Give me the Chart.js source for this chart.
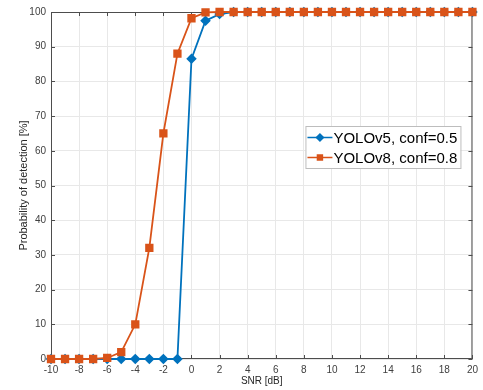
<!DOCTYPE html>
<html>
<head>
<meta charset="utf-8">
<script src="https://cdn.jsdelivr.net/npm/chart.js@4.4.0/dist/chart.umd.min.js"></script>
<style>
  html, body { margin: 0; padding: 0; background: #fff; }
  #wrap { width: 483px; height: 390px; }
</style>
</head>
<body>
<div id="wrap"><canvas id="myChart" width="483" height="390"></canvas></div>
<script>
// values
const snr = [-10, -9, -8, -7, -6, -5, -4, -3, -2, -1, 0, 1, 2, 3, 4, 5, 6, 7, 8, 9, 10,
             11, 12, 13, 14, 15, 16, 17, 18, 19, 20];
const yolov5 = [0, 0, 0, 0, 0, 0, 0, 0, 0, 0, 86.5, 97.5, 99.4,
                100, 100, 100, 100, 100, 100, 100, 100, 100, 100, 100, 100, 100, 100, 100, 100, 100, 100];
const yolov8 = [0, 0, 0, 0, 0.3, 2, 10, 32, 65, 88, 98.2, 99.9,
                100, 100, 100, 100, 100, 100, 100, 100, 100, 100, 100, 100, 100, 100, 100, 100, 100, 100, 100];
const xTicks = [-10, -8, -6, -4, -2, 0, 2, 4, 6, 8, 10, 12, 14, 16, 18, 20];
const yTicks = [0, 10, 20, 30, 40, 50, 60, 70, 80, 90, 100];
const seriesNames = ['YOLOv5, conf=0.5', 'YOLOv8, conf=0.8'];

const blue = '#0072BD';
const orange = '#D95319';

const toPoints = (ys) => snr.map((x, i) => ({ x: x, y: ys[i] }));

// MATLAB-like box with inward ticks
const boxPlugin = {
    id: 'box',
    beforeDatasetsDraw(chart) {
        const { ctx, chartArea: a, scales } = chart;
        ctx.save();
        ctx.strokeStyle = '#4d4d4d';
        ctx.lineWidth = 1;
        ctx.beginPath();
        ctx.rect(a.left + 0.5, a.top + 0.5, a.right - a.left - 1, a.bottom - a.top - 1);
        ctx.stroke();
        ctx.beginPath();
        xTicks.forEach(v => {
            const px = Math.round(scales.x.getPixelForValue(v)) + 0.5;
            ctx.moveTo(px, a.bottom); ctx.lineTo(px, a.bottom - 4);
            ctx.moveTo(px, a.top); ctx.lineTo(px, a.top + 4);
        });
        yTicks.forEach(v => {
            const py = Math.round(scales.y.getPixelForValue(v)) + 0.5;
            ctx.moveTo(a.left, py); ctx.lineTo(a.left + 4, py);
            ctx.moveTo(a.right, py); ctx.lineTo(a.right - 4, py);
        });
        ctx.stroke();
        ctx.restore();
    }
};

// legend box inside the axes, upper right
const legendPlugin = {
    id: 'boxLegend',
    afterDraw(chart) {
        const { ctx, chartArea: a } = chart;
        const x0 = a.right - 167, y0 = a.top + 114;
        const w = 155, h = 42;
        ctx.save();
        ctx.fillStyle = '#fff';
        ctx.fillRect(x0, y0, w, h);
        ctx.strokeStyle = '#bdbdbd';
        ctx.lineWidth = 1;
        ctx.strokeRect(x0 + 0.5, y0 + 0.5, w, h);
        ctx.font = '15px "Liberation Sans", Arial, sans-serif';
        ctx.textBaseline = 'middle';
        chart.data.datasets.forEach((ds, i) => {
            const cy = y0 + 11.5 + i * 20;
            ctx.strokeStyle = ds.borderColor;
            ctx.lineWidth = 1.5;
            ctx.beginPath();
            ctx.moveTo(x0 + 2, cy); ctx.lineTo(x0 + 27, cy);
            ctx.stroke();
            ctx.fillStyle = ds.backgroundColor;
            Chart.helpers.drawPoint(ctx, { pointStyle: ds.pointStyle, radius: 3.5, borderWidth: 1 }, x0 + 14.5, cy);
            ctx.fill();
            ctx.fillStyle = '#000';
            ctx.fillText(ds.label, x0 + 28, cy + 1);
        });
        ctx.restore();
    }
};

const data = {
    datasets: [{
        label: seriesNames[0],
        data: toPoints(yolov5),
        borderColor: blue,
        backgroundColor: blue,
        pointStyle: 'rectRot',
        pointRadius: 4,
        borderWidth: 1.8,
        order: 2,
        clip: false
    }, {
        label: seriesNames[1],
        data: toPoints(yolov8),
        borderColor: orange,
        backgroundColor: orange,
        pointStyle: 'rect',
        pointRadius: 4.6,
        borderWidth: 1.8,
        order: 1,
        clip: false
    }]
};

const tickFont = { family: '"Liberation Sans", Arial, sans-serif', size: 10 };

const config = {
    type: 'line',
    data: data,
    options: {
        responsive: false,
        animation: false,
        layout: { padding: { top: 12, right: 9, left: 0, bottom: 0 } },
        plugins: { legend: { display: false }, tooltip: { enabled: false } },
        scales: {
            x: {
                type: 'linear',
                min: -10, max: 20,
                afterFit(s) { s.height = 31; },
                afterBuildTicks(s) { s.ticks = xTicks.map(v => ({ value: v })); },
                grid: { color: '#e8e8e8', drawTicks: false },
                border: { display: false },
                ticks: { font: tickFont, color: '#404040', padding: 5, maxRotation: 0, autoSkip: false },
                title: { display: true, text: 'SNR [dB]', font: tickFont, color: '#262626', padding: { top: 0, bottom: 3 } }
            },
            y: {
                type: 'linear',
                min: 0, max: 100,
                afterFit(s) { s.width = 51; },
                afterBuildTicks(s) { s.ticks = yTicks.map(v => ({ value: v })); },
                grid: { color: '#e8e8e8', drawTicks: false },
                border: { display: false },
                ticks: { font: tickFont, color: '#404040', padding: 5 },
                title: { display: true, text: 'Probability of detection [%]', font: { family: tickFont.family, size: 11 }, color: '#262626', padding: { top: 17, bottom: 0 } }
            }
        }
    },
    plugins: [boxPlugin, legendPlugin]
};

const myChart = new Chart(document.getElementById('myChart'), config);
</script>
</body>
</html>
